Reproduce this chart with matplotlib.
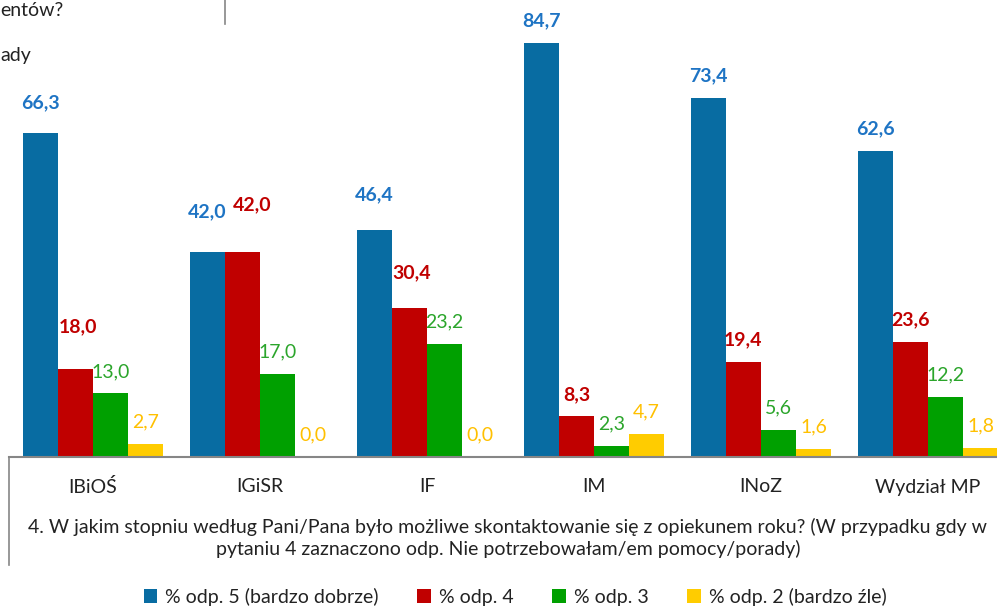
import matplotlib
matplotlib.use("Agg")
import matplotlib.pyplot as plt
from matplotlib.patches import Patch
from matplotlib.lines import Line2D
import numpy as np

plt.rcParams['font.family'] = ['Lato', 'DejaVu Sans']

# data
categories = ["IBiOŚ", "IGiSR", "IF", "IM", "INoZ", "Wydział MP"]
odp5 = [66.3, 42.0, 46.4, 84.7, 73.4, 62.6]
odp4 = [18.0, 42.0, 30.4, 8.3, 19.4, 23.6]
odp3 = [13.0, 17.0, 23.2, 2.3, 5.6, 12.2]
odp2 = [2.7, 0.0, 0.0, 4.7, 1.6, 1.8]
series_names = ["% odp. 5 (bardzo dobrze)", "% odp. 4", "% odp. 3",
                "% odp. 2 (bardzo źle)"]
title = ("4. W jakim stopniu według Pani/Pana było możliwe skontaktowanie się "
         "z opiekunem roku? (W przypadku gdy w\npytaniu 4 zaznaczono odp. "
         "Nie potrzebowałam/em pomocy/porady)")

bar_colors = ["#086CA2", "#C00000", "#00A000", "#FFCC00"]
label_colors = ["#1E74C4", "#C00000", "#2BA52B", "#FFC000"]
label_bold = [True, True, False, False]
FS = 14

# labels that were dragged by hand in the original: (series, cat) -> (dx, dy) px
nudges = {(0, 0): (0, 8), (0, 1): (0, 18), (0, 2): (0, 13),
          (1, 0): (3, 20), (1, 1): (10, 25), (1, 2): (2, 14)}

W, H = 997, 608
fig = plt.figure(figsize=(W / 100, H / 100), dpi=100)
# plot area: left edge at x=9px, baseline at y=457px, runs off the right edge
ax = fig.add_axes([9 / W, 1 - 457 / H, 1 - 9 / W, 457 / H])
ax.set_xlim(-0.503, 5.413)
ax.set_ylim(0, 93.5)

x = np.arange(len(categories))
width = 0.21
all_series = [odp5, odp4, odp3, odp2]
for s, vals in enumerate(all_series):
    pos = x + (s - 1.5) * width
    ax.bar(pos, vals, width, color=bar_colors[s], edgecolor="none", zorder=2)
    for c, (px, v) in enumerate(zip(pos, vals)):
        dx, dy = nudges.get((s, c), (0, 0))
        ax.annotate(f"{v:.1f}".replace(".", ","), (px, v),
                    xytext=(dx, 22 + dy), textcoords="offset pixels",
                    ha="center", va="center", fontsize=FS,
                    color=label_colors[s],
                    fontweight="bold" if label_bold[s] else "normal")

for side in ["top", "right", "left"]:
    ax.spines[side].set_visible(False)
ax.spines["bottom"].set_color("#868686")
ax.spines["bottom"].set_linewidth(1.5)
ax.set_yticks([])
ax.set_xticks([])

# category labels and question text
for c, name in zip(x, categories):
    ax.annotate(name, (c, 0), xytext=(0, -30), textcoords="offset pixels",
                ha="center", va="center", fontsize=FS, color="#222222")
fig.text(508 / W, 1 - 538 / H, title, ha="center", va="center",
         fontsize=14, color="#222222", linespacing=1.28)

# border lines of the surrounding chart frame
fig.add_artist(Line2D([9 / W, 9 / W], [1 - 457 / H, 1 - 565 / H],
                      color="#868686", lw=1.2))
fig.add_artist(Line2D([225 / W, 225 / W], [1.0, 1 - 24 / H],
                      color="#868686", lw=1.2))

# remnants of the text of the chart above
fig.text(0, 1 - 11 / H, "entów?", ha="left", va="center",
         fontsize=FS, color="#222222")
fig.text(0, 1 - 56 / H, "ady", ha="left", va="center",
         fontsize=FS, color="#222222")

handles = [Patch(facecolor=col, edgecolor="none") for col in bar_colors]
fig.legend(handles, series_names, loc="center", ncol=4,
           bbox_to_anchor=(515 / W, 1 - 597 / H), frameon=False,
           fontsize=FS, handlelength=0.7, handleheight=0.7,
           handletextpad=0.4, columnspacing=2.0, labelcolor="#222222")

fig.savefig("out.png", dpi=100)
